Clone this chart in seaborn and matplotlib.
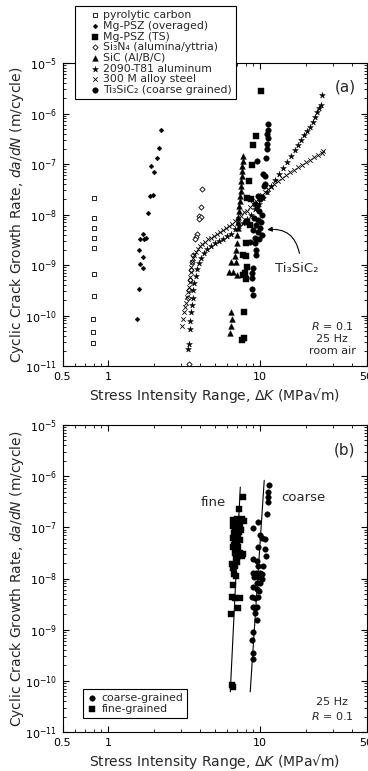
"""Cyclic crack growth of Ti3SiC2 against other materials (a) and by grain size (b)."""
import matplotlib
matplotlib.use("Agg")
import matplotlib.pyplot as plt
import matplotlib.ticker as mticker
from matplotlib.collections import PathCollection
from matplotlib.legend_handler import HandlerPathCollection
import pandas as pd
import seaborn as sns

# ---- panel (a): stress intensity range (MPa m^0.5) and da/dN (m/cycle) ----
pc_K = [0.80, 0.81, 0.81, 0.81, 0.81, 0.80, 0.80, 0.79, 0.79, 0.79]
pc_rate = [2.1e-8, 8.7e-9, 5.5e-9, 3.5e-9, 2.2e-9, 6.6e-10, 2.4e-10, 8.7e-11, 4.8e-11, 2.9e-11]

mgo_K = [2.23, 2.17, 2.10, 1.92, 2.01, 1.89, 1.98, 1.83, 1.70, 1.73, 1.78, 1.62,
         1.60, 1.70, 1.62, 1.70, 1.60, 1.55]
mgo_rate = [4.8e-7, 2.1e-7, 1.3e-7, 9.1e-8, 6.9e-8, 2.3e-8, 2.4e-8, 1.05e-8, 4.2e-9, 3.3e-9,
            3.5e-9, 3.3e-9, 2.0e-9, 1.45e-9, 1.05e-9, 8.7e-10, 3.3e-10, 8.7e-11]

mgts_K = [10.15, 9.41, 8.99, 8.86, 8.47, 8.21, 8.73, 8.21, 8.59, 8.09, 7.73, 8.09, 8.21,
          7.97, 7.73, 8.09, 7.85, 7.61, 7.85]
mgts_rate = [2.75e-6, 3.6e-7, 2.4e-7, 9.5e-8, 4.6e-8, 2.1e-8, 2.0e-8, 7.2e-9, 6.3e-9, 2.75e-9,
             1.58e-9, 1.51e-9, 9.1e-10, 6.9e-10, 6.3e-10, 5.2e-10, 1.2e-10, 3.3e-11, 3.6e-11]

si3n4_K = [4.15, 4.09, 3.97, 4.09, 3.97, 3.85, 3.79, 3.74, 3.62, 3.57, 3.52, 3.46, 3.41,
           3.36, 3.41]
si3n4_rate = [3.2e-8, 1.38e-8, 9.5e-9, 9.1e-9, 8.3e-9, 4.2e-9, 3.6e-9, 3.2e-9, 1.58e-9,
              1.15e-9, 7.9e-10, 5.0e-10, 3.2e-10, 2.2e-10, 1.1e-11]

sic_K = [7.73, 7.73, 7.61, 7.61, 7.61, 7.50, 7.50, 7.50, 7.39, 7.39, 7.27, 7.27, 7.17, 7.17,
         7.17, 7.06, 7.06, 6.95, 6.85, 6.95, 6.45, 6.25, 6.64, 7.06, 6.45, 6.55, 6.45, 6.35]
sic_rate = [1.45e-7, 1.15e-7, 9.1e-8, 7.2e-8, 5.8e-8, 4.6e-8, 3.6e-8, 2.9e-8, 2.3e-8, 1.82e-8,
            1.45e-8, 1.15e-8, 9.1e-9, 7.2e-9, 5.5e-9, 4.0e-9, 2.75e-9, 2.0e-9, 1.51e-9, 1.15e-9,
            1.15e-9, 7.2e-10, 7.2e-10, 6.3e-10, 1.15e-10, 8.7e-11, 6.3e-11, 4.6e-11]

al_K = [3.36, 3.41, 3.46, 3.46, 3.52, 3.57, 3.62, 3.62, 3.68, 3.79, 3.85, 3.97, 4.09, 4.28,
        4.48, 4.76, 5.06, 5.37, 5.71, 6.07, 6.45, 6.85, 7.27, 7.73, 8.21, 8.73, 9.27, 9.85,
        10.46, 11.12, 11.81, 12.55, 13.34, 14.17, 15.06, 16.0, 17.0, 17.8, 18.6, 19.5, 20.4,
        21.3, 22.3, 23.0, 23.7, 24.4, 25.2, 25.6]
al_rate = [2.2e-11, 2.75e-11, 5.5e-11, 7.9e-11, 1.15e-10, 1.58e-10, 2.2e-10, 3.2e-10, 4.4e-10,
           6.0e-10, 8.3e-10, 1.1e-9, 1.38e-9, 1.74e-9, 2.1e-9, 2.4e-9, 2.75e-9, 3.0e-9, 3.3e-9,
           3.8e-9, 4.2e-9, 5.2e-9, 6.0e-9, 6.9e-9, 8.3e-9, 1.0e-8, 1.26e-8, 1.58e-8, 2.1e-8,
           2.75e-8, 3.6e-8, 4.8e-8, 6.3e-8, 8.3e-8, 1.1e-7, 1.45e-7, 1.9e-7, 2.4e-7, 3.0e-7,
           3.8e-7, 4.6e-7, 5.5e-7, 6.9e-7, 8.7e-7, 1.05e-6, 1.26e-6, 1.45e-6, 2.3e-6]

steel_K = [3.07, 3.11, 3.16, 3.21, 3.26, 3.31, 3.36, 3.41, 3.46, 3.46, 3.52, 3.52, 3.57, 3.62,
           3.68, 3.79, 3.91, 4.03, 4.15, 4.35, 4.55, 4.76, 4.98, 5.21, 5.46, 5.71, 5.97, 6.25,
           6.55, 6.85, 7.17, 7.50, 7.85, 8.21, 8.59, 8.99, 9.41, 9.85, 10.31, 10.79, 11.29,
           11.81, 12.36, 13.14, 13.95, 14.83, 15.76, 16.74, 17.8, 18.9, 20.1, 21.3, 22.7, 24.1,
           25.6, 26.0]
steel_rate = [6.3e-11, 8.7e-11, 1.2e-10, 1.5e-10, 1.8e-10, 2.3e-10, 2.9e-10, 3.6e-10, 4.6e-10,
              5.8e-10, 7.2e-10, 9.1e-10, 1.15e-9, 1.38e-9, 1.58e-9, 1.82e-9, 2.1e-9, 2.4e-9,
              2.6e-9, 2.9e-9, 3.2e-9, 3.5e-9, 3.8e-9, 4.2e-9, 4.6e-9, 5.0e-9, 5.5e-9, 6.0e-9,
              6.6e-9, 7.6e-9, 8.3e-9, 9.5e-9, 1.1e-8, 1.2e-8, 1.38e-8, 1.58e-8, 1.82e-8, 2.1e-8,
              2.4e-8, 2.75e-8, 3.2e-8, 3.5e-8, 4.0e-8, 4.6e-8, 5.2e-8, 6.0e-8, 6.9e-8, 7.6e-8,
              8.7e-8, 9.5e-8, 1.1e-7, 1.2e-7, 1.38e-7, 1.5e-7, 1.66e-7, 1.82e-7]

ti_K = [11.29, 11.29, 11.12, 11.29, 11.12, 11.12, 10.95, 9.56, 10.46, 10.79, 10.79, 10.62,
        9.70, 10.0, 10.31, 9.27, 9.56, 9.85, 10.31, 9.13, 9.70, 10.15, 9.41, 10.0, 8.99, 9.70,
        10.31, 9.27, 8.59, 9.27, 9.85, 9.41, 9.41, 8.99, 8.86, 8.86, 8.86, 8.99]
ti_rate = [6.3e-7, 4.8e-7, 4.0e-7, 3.2e-7, 2.5e-7, 2.0e-7, 1.32e-7, 1.15e-7, 6.3e-8, 5.8e-8,
           4.0e-8, 3.6e-8, 2.3e-8, 2.0e-8, 2.2e-8, 1.58e-8, 1.45e-8, 1.15e-8, 1.0e-8, 8.7e-9,
           7.9e-9, 7.2e-9, 6.3e-9, 5.5e-9, 5.0e-9, 4.6e-9, 4.0e-9, 3.5e-9, 2.9e-9, 2.75e-9,
           3.2e-9, 2.0e-9, 1.58e-9, 8.7e-10, 6.9e-10, 5.5e-10, 3.3e-10, 2.6e-10]

# ---- panel (b): Ti3SiC2 grain size ----
coarse_K = [11.46, 11.29, 11.29, 11.29, 11.12, 9.70, 8.99, 10.0, 10.31, 10.79, 9.70, 10.79,
            10.95, 8.99, 9.56, 9.70, 10.46, 8.99, 9.41, 10.0, 10.31, 9.13, 9.70, 10.31, 9.56,
            10.0, 8.99, 9.56, 9.85, 8.86, 9.27, 9.70, 8.99, 9.27, 9.56, 9.27, 9.56, 8.99, 8.86,
            8.99, 8.99]
coarse_rate = [6.6e-7, 4.9e-7, 3.9e-7, 3.1e-7, 1.8e-7, 1.26e-7, 9.5e-8, 7.2e-8, 6.3e-8, 5.8e-8,
               4.2e-8, 3.7e-8, 2.7e-8, 2.4e-8, 2.2e-8, 1.72e-8, 1.72e-8, 1.3e-8, 1.3e-8, 1.3e-8,
               1.2e-8, 1.05e-8, 1.05e-8, 9.6e-9, 8.3e-9, 8.3e-9, 6.7e-9, 6.1e-9, 5.6e-9, 4.4e-9,
               4.2e-9, 4.4e-9, 2.8e-9, 2.7e-9, 2.8e-9, 2.15e-9, 1.58e-9, 9.2e-10, 6.4e-10,
               3.5e-10, 2.7e-10]

fine_K = [7.73, 7.27, 6.64, 7.06, 7.61, 7.85, 6.95, 7.39, 6.64, 6.85, 7.17, 7.27, 6.74, 7.50,
          6.64, 6.85, 7.17, 7.06, 7.39, 6.74, 6.64, 6.95, 7.17, 6.85, 7.39, 7.61, 7.17, 6.95,
          7.73, 6.55, 6.85, 6.64, 7.06, 6.95, 6.74, 6.64, 6.55, 6.85, 7.39, 7.17, 6.45, 6.55,
          6.64]
fine_rate = [3.9e-7, 2.3e-7, 1.37e-7, 1.44e-7, 1.44e-7, 1.31e-7, 1.2e-7, 1.15e-7, 1.04e-7,
             9.1e-8, 1.04e-7, 8.0e-8, 7.6e-8, 8.7e-8, 6.3e-8, 5.8e-8, 6.3e-8, 5.1e-8, 5.6e-8,
             4.6e-8, 4.1e-8, 3.7e-8, 4.2e-8, 3.2e-8, 3.2e-8, 2.7e-8, 2.7e-8, 2.4e-8, 3.0e-8,
             1.88e-8, 1.72e-8, 1.64e-8, 2.1e-8, 1.1e-8, 1.25e-8, 7.6e-9, 4.4e-9, 4.2e-9, 4.2e-9,
             2.7e-9, 2.0e-9, 8.3e-11, 7.6e-11]

fine_fit_K = [6.35, 7.39]
fine_fit_rate = [6.1e-11, 6.1e-7]
coarse_fit_K = [8.59, 10.62]
coarse_fit_rate = [6.1e-11, 8.3e-7]

X_TICKS = [0.5, 1, 10, 50]
X_TICKLABELS = ["0.5", "1", "10", "50"]

sns.set_theme(style="ticks")
plt.rcParams["font.family"] = ["DejaVu Sans"]
plt.rcParams["mathtext.fontset"] = "dejavusans"
plt.rcParams["axes.linewidth"] = 0.8


def scatter(ax, K, rate, label, **style):
    df = pd.DataFrame({"dK": K, "rate": rate})
    sns.scatterplot(data=df, x="dK", y="rate", ax=ax, label=label, legend=False, **style)


def style_axes(ax):
    ax.set_xscale("log")
    ax.set_yscale("log")
    ax.set_xlim(0.5, 50)
    ax.set_ylim(1e-11, 1e-5)
    ax.xaxis.set_major_locator(mticker.FixedLocator(X_TICKS))
    ax.xaxis.set_major_formatter(mticker.FixedFormatter(X_TICKLABELS))
    ax.xaxis.set_minor_locator(mticker.LogLocator(base=10, subs=range(2, 10), numticks=20))
    ax.xaxis.set_minor_formatter(mticker.NullFormatter())
    ax.yaxis.set_major_locator(mticker.LogLocator(base=10, numticks=10))
    ax.yaxis.set_minor_locator(mticker.LogLocator(base=10, subs=range(2, 10), numticks=20))
    ax.yaxis.set_minor_formatter(mticker.NullFormatter())
    ax.tick_params(which="both", direction="in", top=True, right=True, colors="black",
                   labelsize=8, pad=4)
    ax.tick_params(which="major", length=4, width=0.8)
    ax.tick_params(which="minor", length=2, width=0.6)
    ax.set_xlabel("Stress Intensity Range, Δ$K$ (MPa√m)", fontsize=10, labelpad=3)
    ax.set_ylabel("Cyclic Crack Growth Rate, $da/dN$ (m/cycle)", fontsize=10)
    ax.yaxis.set_label_coords(-0.12, 0.5)
    for sp in ax.spines.values():
        sp.set_color("black")


fig = plt.figure(figsize=(3.68, 7.71), dpi=100)
ax_a = fig.add_axes([62.5 / 368, 405 / 771, 304 / 368, 303 / 771])
ax_b = fig.add_axes([62.5 / 368, 39 / 771, 304 / 368, 307 / 771])

# ---- (a) ----
scatter(ax_a, pc_K, pc_rate, "pyrolytic carbon", marker="s", s=9, color="white",
        edgecolor="black", linewidth=0.6)
scatter(ax_a, mgo_K, mgo_rate, "Mg-PSZ (overaged)", marker="D", s=6, color="black",
        edgecolor="black", linewidth=0.3)
scatter(ax_a, mgts_K, mgts_rate, "Mg-PSZ (TS)", marker="s", s=15, color="black",
        edgecolor="black", linewidth=0.3)
scatter(ax_a, si3n4_K, si3n4_rate, "Si₃N₄ (alumina/yttria)", marker="D", s=7, color="white",
        edgecolor="black", linewidth=0.6)
scatter(ax_a, sic_K, sic_rate, "SiC (Al/B/C)", marker="^", s=17, color="black",
        edgecolor="black", linewidth=0.3)
scatter(ax_a, al_K, al_rate, "2090-T81 aluminum", marker="*", s=20, color="black",
        edgecolor="black", linewidth=0.3)
scatter(ax_a, steel_K, steel_rate, "300 M alloy steel", marker="x", s=10, color="black",
        linewidth=0.6)
scatter(ax_a, ti_K, ti_rate, "Ti₃SiC₂ (coarse grained)", marker="o", s=16, color="black",
        edgecolor="black", linewidth=0.3)
style_axes(ax_a)

handles, labels = ax_a.get_legend_handles_labels()
leg_a = fig.legend(handles, labels, loc="upper left", bbox_to_anchor=(75 / 368, 1 - 6 / 771),
                   borderaxespad=0, fontsize=7.8, frameon=True, fancybox=False, framealpha=1,
                   edgecolor="black", handlelength=2.0, handletextpad=0.15, borderpad=0.4,
                   labelspacing=0.06,
                   handler_map={PathCollection: HandlerPathCollection(xpad=0.8)})
leg_a.get_frame().set_linewidth(0.8)

ax_a.text(0.929, 0.921, "(a)", transform=ax_a.transAxes, ha="center", va="center", fontsize=11)
ax_a.text(0.887, 0.0925, "$R$ = 0.1\n25 Hz\nroom air", transform=ax_a.transAxes,
          ha="center", va="center", fontsize=8, linespacing=1.25, multialignment="center")
ax_a.text(17.3, 8.7e-10, "Ti₃SiC₂", ha="center", va="center", fontsize=9.5)
ax_a.annotate("", xy=(11.1, 5.0e-9), xytext=(18.1, 1.7e-9),
              arrowprops=dict(arrowstyle="-|>", connectionstyle="arc3,rad=0.45",
                              color="black", lw=0.8, mutation_scale=7,
                              shrinkA=0, shrinkB=0))

# ---- (b) ----
scatter(ax_b, coarse_K, coarse_rate, "coarse-grained", marker="o", s=16, color="black",
        edgecolor="black", linewidth=0.3)
scatter(ax_b, fine_K, fine_rate, "fine-grained", marker="s", s=15, color="black",
        edgecolor="black", linewidth=0.3)
sns.lineplot(x=fine_fit_K, y=fine_fit_rate, ax=ax_b, color="black", lw=0.8,
             estimator=None, sort=False, legend=False)
sns.lineplot(x=coarse_fit_K, y=coarse_fit_rate, ax=ax_b, color="black", lw=0.8,
             estimator=None, sort=False, legend=False)
style_axes(ax_b)

leg_b = ax_b.legend(loc="lower left", bbox_to_anchor=(0.067, 0.046), borderaxespad=0,
                    fontsize=7.8, frameon=True, fancybox=False, framealpha=1,
                    edgecolor="black", handlelength=0.9, handletextpad=0.5, borderpad=0.35,
                    labelspacing=0.1)
leg_b.get_frame().set_linewidth(0.8)

ax_b.text(0.929, 0.919, "(b)", transform=ax_b.transAxes, ha="center", va="center", fontsize=11)
ax_b.text(0.495, 0.749, "fine", transform=ax_b.transAxes, ha="center", va="center",
          fontsize=9.5)
ax_b.text(0.791, 0.765, "coarse", transform=ax_b.transAxes, ha="center", va="center",
          fontsize=9.5)
ax_b.text(0.887, 0.073, "25 Hz\n$R$ = 0.1", transform=ax_b.transAxes, ha="center",
          va="center", fontsize=8, linespacing=1.25, multialignment="center")

fig.savefig("out.png", dpi=100)
